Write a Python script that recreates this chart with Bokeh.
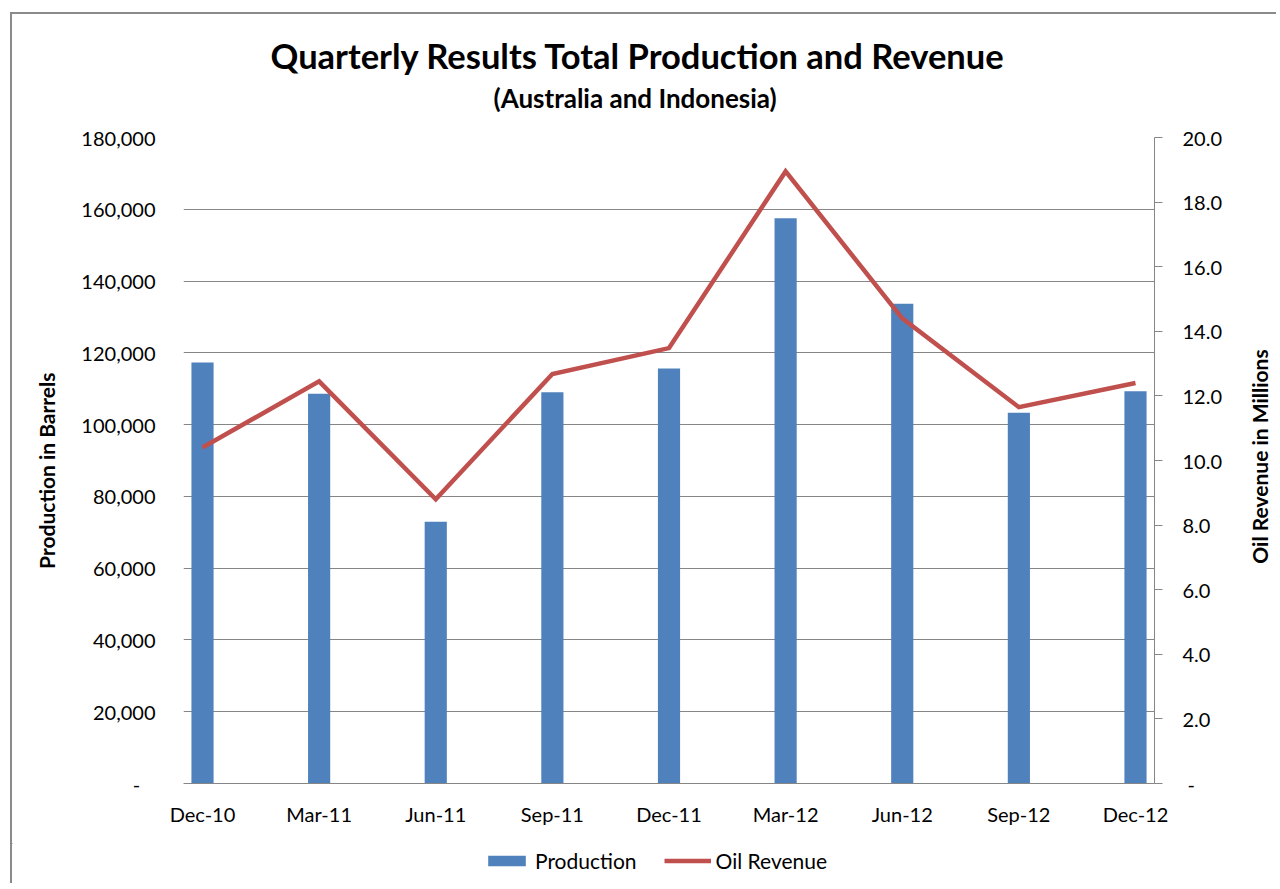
import math
from bokeh.plotting import figure
from bokeh.models import (Range1d, LinearAxis, FixedTicker, CustomJSTickFormatter,
                          Legend, LegendItem, Title, Label, ColumnDataSource)
from bokeh.layouts import column, row
from bokeh.embed import file_html
from bokeh.resources import INLINE

categories = ["Dec-10", "Mar-11", "Jun-11", "Sep-11", "Dec-11", "Mar-12", "Jun-12", "Sep-12", "Dec-12"]
production = [117300, 108600, 72900, 109000, 115600, 157500, 133700, 103300, 109300]
oil_revenue = [10.4, 12.45, 8.8, 12.68, 13.48, 18.95, 14.4, 11.65, 12.4]
left_ticks = [0, 20000, 40000, 60000, 80000, 100000, 120000, 140000, 160000, 180000]
right_ticks = [0, 2, 4, 6, 8, 10, 12, 14, 16, 18, 20]

FONT = "Lato"
GRID = "#868686"
BAR = "#4F81BD"
LINE = "#C0504D"
NB = "\u00a0"

xs = list(range(len(categories)))
src = ColumnDataSource(dict(x=xs, cat=categories, production=production, revenue=oil_revenue))

MAIN_H = 123 + 646 + 60

# ---------------- main chart ----------------
p = figure(frame_width=971, frame_height=646, output_backend="svg", toolbar_location=None,
           x_range=Range1d(-0.163, len(categories) - 1 + 0.163),
           y_range=Range1d(0, 180000),
           min_border_left=171, min_border_right=86, min_border_top=123, min_border_bottom=60,
           title=None)
p.outline_line_color = None
p.background_fill_color = "white"
p.border_fill_color = "white"
p.extra_y_ranges = {"rev": Range1d(0, 20)}

p.vbar(x="x", top="production", width=0.19, source=src, fill_color=BAR, line_color=None)
p.line(x="x", y="revenue", source=src, y_range_name="rev",
       line_color=LINE, line_width=4.5, line_join="miter")

xa = p.xaxis[0]
xa.ticker = FixedTicker(ticks=xs)
xa.major_label_overrides = {i: c for i, c in enumerate(categories)}
xa.axis_line_color = GRID
xa.major_tick_line_color = None
xa.major_tick_out = 0
xa.major_tick_in = 0
xa.minor_tick_line_color = None
xa.major_label_standoff = 18
xa.major_label_text_font = FONT
xa.major_label_text_font_size = "20px"
xa.major_label_text_color = "black"
p.xgrid.grid_line_color = None

ya = p.yaxis[0]
ya.ticker = FixedTicker(ticks=left_ticks)
ya.formatter = CustomJSTickFormatter(code="""
    return tick == 0 ? "-\\u00a0\\u00a0\\u00a0" : Math.round(tick).toLocaleString("en-US");
""")
ya.axis_line_color = None
ya.major_tick_line_color = None
ya.major_tick_out = 0
ya.major_tick_in = 0
ya.minor_tick_line_color = None
ya.major_label_standoff = 28
ya.major_label_text_font = FONT
ya.major_label_text_font_size = "20px"
ya.major_label_text_color = "black"
ya.axis_label = "Production in Barrels" + NB * 4
ya.axis_label_text_font = FONT
ya.axis_label_text_font_size = "21px"
ya.axis_label_text_font_style = "bold"
ya.axis_label_text_color = "black"
ya.axis_label_standoff = 19
p.ygrid.ticker = FixedTicker(ticks=left_ticks)
p.ygrid.grid_line_color = GRID
p.ygrid.grid_line_width = 1

ra = LinearAxis(y_range_name="rev", ticker=FixedTicker(ticks=right_ticks))
ra.formatter = CustomJSTickFormatter(code="""
    return tick == 0 ? "\\u00a0-" : tick.toFixed(1);
""")
ra.axis_line_color = GRID
ra.major_tick_line_color = GRID
ra.major_tick_out = 8
ra.major_tick_in = 0
ra.minor_tick_line_color = None
ra.major_label_standoff = 20
ra.major_label_text_font = FONT
ra.major_label_text_font_size = "20px"
ra.major_label_text_color = "black"
p.add_layout(ra, "right")

sub = Title(text="(Australia and Indonesia)", align="left", offset=310, text_font=FONT,
            text_font_size="26px", text_font_style="bold", text_color="black", standoff=48)
p.add_layout(sub, "above")
main = Title(text="Quarterly Results Total Production and Revenue", align="left", offset=87,
             text_font=FONT, text_font_size="34.5px", text_font_style="bold", text_color="black",
             standoff=-41)
p.add_layout(main, "above")

# ---------------- right axis title strip ----------------
pr = figure(width=36, height=MAIN_H, output_backend="svg", toolbar_location=None,
            x_axis_location=None, y_axis_location=None, min_border=0,
            x_range=Range1d(0, 1), y_range=Range1d(0, 1))
pr.outline_line_color = None
pr.grid.grid_line_color = None
pr.add_layout(Label(x=19, y=327, x_units="screen", y_units="screen", angle=math.pi / 2,
                    text="Oil Revenue in Millions", text_align="center", text_baseline="middle",
                    text_font=FONT, text_font_size="21px", text_font_style="bold",
                    text_color="black"))

# ---------------- legend strip ----------------
pl = figure(width=1264, height=40, output_backend="svg", toolbar_location=None,
            x_axis_location=None, y_axis_location=None, min_border=0,
            x_range=Range1d(100, 101), y_range=Range1d(-10, -9))
pl.outline_line_color = None
pl.grid.grid_line_color = None
lb = pl.vbar(x="x", top="production", width=0.19, source=src, fill_color=BAR, line_color=None)
ll = pl.line(x="x", y="revenue", source=src, line_color=LINE, line_width=4.5)
legend = Legend(items=[LegendItem(label="Production", renderers=[lb]),
                       LegendItem(label="Oil Revenue", renderers=[ll])],
                orientation="horizontal", location=(471, 10),
                glyph_width=47, glyph_height=13, label_standoff=5, spacing=27,
                padding=0, margin=0, border_line_color=None, background_fill_alpha=0,
                label_text_font=FONT, label_text_font_size="21px", label_text_color="black",
                label_height=20)
pl.add_layout(legend, "center")

layout = column(row(p, pr, spacing=0), pl, spacing=0, margin=(12, 0, 0, 10),
                styles={"border-left": "2px solid #8a8a8a", "border-top": "2px solid #8a8a8a"})

open("out.html", "w").write(file_html(layout, INLINE))
